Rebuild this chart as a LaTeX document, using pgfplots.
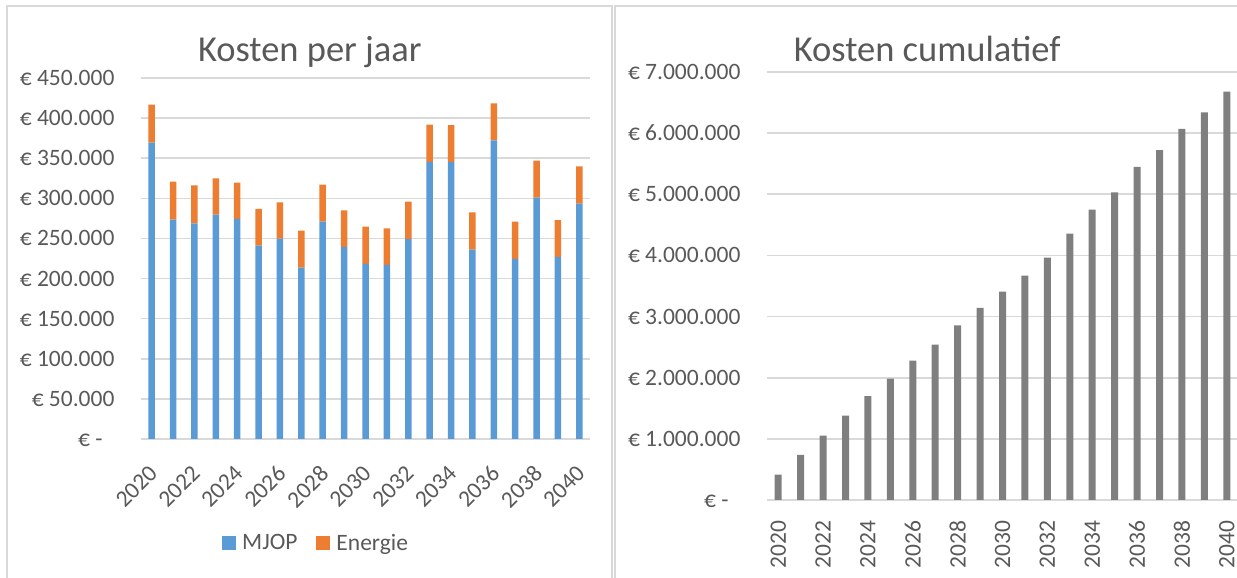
\documentclass[border=0pt]{standalone}
\usepackage{pgfplots}
\pgfplotsset{compat=1.18}
\usepackage{fontspec}
\setmainfont{Carlito}
\definecolor{txt}{HTML}{595959}
\definecolor{gridc}{HTML}{D9D9D9}
\definecolor{mjop}{HTML}{5B9BD5}
\definecolor{energie}{HTML}{ED7D31}
\definecolor{cum}{HTML}{7F7F7F}
\newcommand{\tickfont}{\fontsize{23.5}{28}\selectfont}
\newcommand{\titlefont}{\fontsize{36.5}{42}\selectfont}

\pgfplotstableread{
year mjop energie
2020 369400 47400
2021 273500 47300
2022 268900 47400
2023 279700 45300
2024 274300 45300
2025 241100 45700
2026 249800 45300
2027 213700 46100
2028 271000 46100
2029 239400 45700
2030 218300 46500
2031 217000 45700
2032 249400 46500
2033 345300 46600
2034 345300 46100
2035 236100 46500
2036 372300 46100
2037 224500 46500
2038 300900 46100
2039 226600 46100
2040 293400 46500
}\perjaar

\pgfplotstableread{
year cumulatief
2020 416800
2021 737600
2022 1053900
2023 1378900
2024 1698500
2025 1985300
2026 2280400
2027 2540200
2028 2857300
2029 3142400
2030 3407200
2031 3669900
2032 3965800
2033 4357700
2034 4749100
2035 5031700
2036 5450100
2037 5721100
2038 6068100
2039 6340800
2040 6680700
}\cumul

\begin{document}
\begin{tikzpicture}[x=1pt,y=1pt]
\useasboundingbox (0,0) rectangle (1237,578);
\draw[gridc, line width=2pt] (7,-5) -- (7,571.5) -- (612,571.5) -- (612,-5);
\draw[gridc, line width=2pt] (614.5,-5) -- (614.5,571.5) -- (1250,571.5);

\begin{axis}[
  at={(141pt,139pt)}, anchor=south west,
  width=449pt, height=361pt, scale only axis,
  xmin=2019.5, xmax=2040.5, ymin=0, ymax=450000,
  ybar stacked, bar width=6.5pt,
  axis line style={draw=none},
  major tick length=0pt,
  ymajorgrids, grid style={gridc, line width=1.6pt},
  scaled y ticks=false,
  /pgf/number format/assume math mode=true,
  ytick={0,50000,100000,150000,200000,250000,300000,350000,400000,450000},
  yticklabels={€ -\phantom{0}, € 50.000, € 100.000, € 150.000, € 200.000, € 250.000, € 300.000, € 350.000, € 400.000, € 450.000},
  xtick={2020,2022,...,2040},
  xticklabel={\pgfmathprintnumber[1000 sep={},fixed,precision=0]{\tick}},
  xticklabel style={xshift=-4pt, yshift=-20pt, rotate=45, anchor=north east},
  tick label style={font=\tickfont, text=txt},
  yticklabel style={xshift=-23pt},
  title={Kosten per jaar},
  title style={at={(0.376,1)}, anchor=base, yshift=10pt, font=\titlefont, text=txt},
  legend columns=2,
  legend style={at={(0.39,-0.288)}, anchor=center, draw=none, fill=none,
    font=\tickfont, text=txt, inner sep=0pt,
    /tikz/every odd column/.append style={column sep=4pt},
    /tikz/every even column/.append style={column sep=17pt}},
]
\addplot[fill=mjop, draw=none, legend image code/.code={\fill[mjop] (0pt,-7pt) rectangle (14pt,7pt);}] table[x=year, y=mjop] {\perjaar};
\addlegendentry{MJOP}
\addplot[fill=energie, draw=none, legend image code/.code={\fill[energie] (0pt,-7pt) rectangle (14pt,7pt);}] table[x=year, y=energie] {\perjaar};
\addlegendentry{Energie}
\end{axis}

\begin{axis}[
  at={(767pt,78pt)}, anchor=south west,
  width=471pt, height=428pt, scale only axis,
  xmin=2019.5, xmax=2040.5, ymin=0, ymax=7000000,
  ybar, bar width=7pt,
  axis line style={draw=none},
  major tick length=0pt,
  ymajorgrids, grid style={gridc, line width=1.6pt},
  scaled y ticks=false,
  /pgf/number format/assume math mode=true,
  ytick={0,1000000,2000000,3000000,4000000,5000000,6000000,7000000},
  yticklabels={€ -\phantom{0}, € 1.000.000, € 2.000.000, € 3.000.000, € 4.000.000, € 5.000.000, € 6.000.000, € 7.000.000},
  xtick={2020,2022,...,2040},
  xticklabel={\pgfmathprintnumber[1000 sep={},fixed,precision=0]{\tick}},
  xticklabel style={yshift=-17pt, rotate=90, anchor=east},
  tick label style={font=\tickfont, text=txt},
  yticklabel style={xshift=-23pt},
  title={Kosten cumulatief},
  title style={at={(0.34,1)}, anchor=base, yshift=4pt, font=\titlefont, text=txt},
]
\addplot[fill=cum, draw=none] table[x=year, y=cumulatief] {\cumul};
\end{axis}
\end{tikzpicture}
\end{document}
